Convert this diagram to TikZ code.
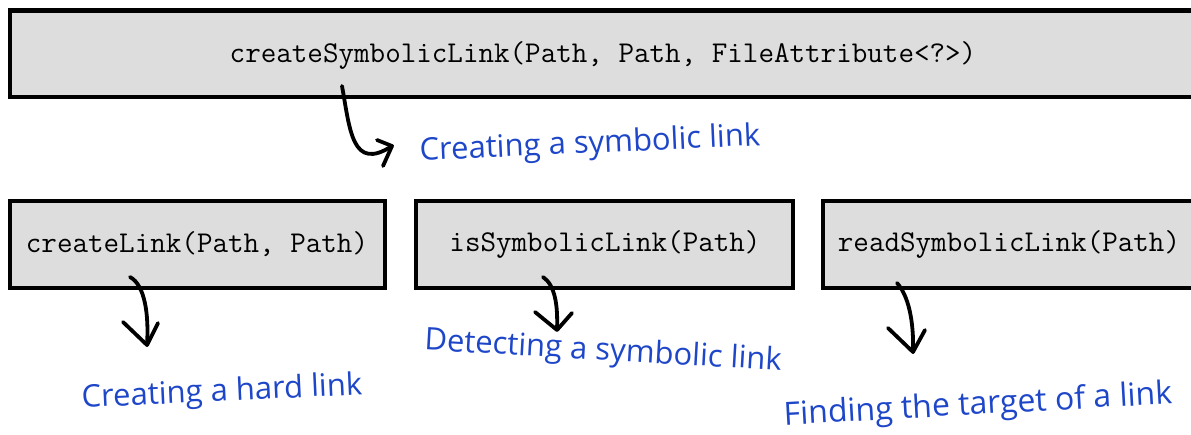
\documentclass[tikz,border=0pt]{standalone}
\usepackage{fontspec}
\newfontfamily\handfont{Open Sans}
\definecolor{boxgray}{HTML}{DDDDDD}
\definecolor{handblue}{HTML}{1E46C8}
\begin{document}
\begin{tikzpicture}[x=1pt,y=-1pt,
  fnbox/.style={draw=black,line width=4.5pt,fill=boxgray},
  fntext/.style={font=\ttfamily\fontsize{30.2}{34}\selectfont,inner sep=0pt},
  note/.style={font=\handfont\fontsize{31}{36}\selectfont,text=handblue,inner sep=0pt},
  hook/.style={draw=black,line width=3.8pt,line cap=round,line join=round}]
\useasboundingbox (0,0) rectangle (1191,434);
\clip (0,0) rectangle (1191,434);
% boxes
\draw[fnbox] (10,10.5) rectangle (1198,97);
\draw[fnbox] (10,201) rectangle (385,288);
\draw[fnbox] (416,201) rectangle (793,288);
\draw[fnbox] (823,201) rectangle (1198,288);
\node[fntext] (top) at (603,55) {createSymbolicLink(Path, Path, FileAttribute<?>)};
\node[fntext] (cl) at (197,244) {createLink(Path, Path)};
\node[fntext] (isl) at (605,244) {isSymbolicLink(Path)};
\node[fntext] (rsl) at (1009,244) {readSymbolicLink(Path)};
% notes
\node[note,rotate=2.6] (n1) at (590,145) {Creating a symbolic link};
\node[note,rotate=2.7] (n2) at (222,393) {Creating a hard link};
\node[note,rotate=-3.3] (n3) at (603,352) {Detecting a symbolic link};
\node[note,rotate=3.2,font=\handfont\fontsize{32}{37}\selectfont] (n4) at (978,406) {Finding the target of a link};
% arrow coordinates
\coordinate (s1) at (342,86);
\coordinate (t1) at (392,146);
\coordinate (s2) at (130,277);
\coordinate (t2) at (147,345);
\coordinate (s3) at (543,277);
\coordinate (t3) at (557,330);
\coordinate (s4) at (897,283);
\coordinate (t4) at (913,352);
% arrows
\draw[hook] (s1) .. controls (350,130) and (352,172) .. (t1);
\draw[hook] (377,140) -- (t1) -- (383,166);
\draw[hook] (s2) .. controls (145,285) and (149,315) .. (t2);
\draw[hook] (123,322) -- (t2) -- (158,323);
\draw[hook] (s3) .. controls (555,285) and (558,305) .. (t3);
\draw[hook] (535,312) -- (t3) -- (572,313);
\draw[hook] (s4) .. controls (908,295) and (914,320) .. (t4);
\draw[hook] (888,328) -- (t4) -- (925,330);
\end{tikzpicture}
\end{document}
